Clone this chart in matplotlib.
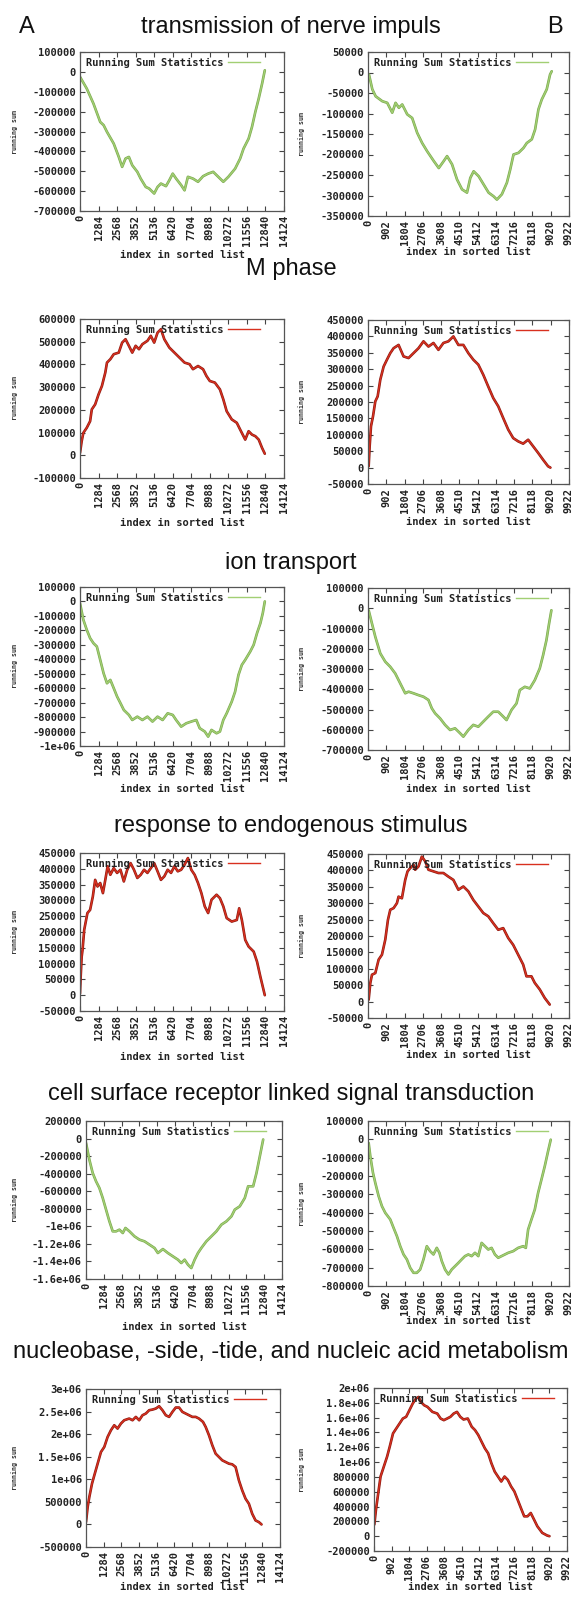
import matplotlib
matplotlib.use('Agg')
import matplotlib.pyplot as plt

# ---------------- data ----------------
titles = ["transmission of nerve impuls", "M phase", "ion transport",
          "response to endogenous stimulus",
          "cell surface receptor linked signal transduction",
          "nucleobase, -side, -tide, and nucleic acid metabolism"]

xticks_a = [0, 1284, 2568, 3852, 5136, 6420, 7704, 8988, 10272, 11556, 12840, 14124]
xticks_b = [0, 902, 1804, 2706, 3608, 4510, 5412, 6314, 7216, 8118, 9020, 9922]

# row 1 : transmission of nerve impuls
nerve_a_x = [0, 467, 934, 1400, 1634, 1868, 2335, 2685, 2918, 3152, 3385, 3618, 3969, 4202, 4552, 4786,
             5136, 5370, 5603, 5953, 6187, 6420, 6654, 7004, 7238, 7471, 7821, 8171, 8521, 8872, 9222,
             9572, 9923, 10273, 10740, 11090, 11324, 11674, 11907, 12141, 12374, 12608, 12795]
nerve_a_y = [-25000, -84000, -160000, -252000, -268000, -302000, -361000, -428000, -478000, -436000,
             -428000, -470000, -503000, -537000, -579000, -587000, -612000, -579000, -562000, -575000,
             -545000, -512000, -537000, -570000, -596000, -528000, -537000, -553000, -525000, -512000,
             -503000, -528000, -553000, -528000, -487000, -436000, -386000, -336000, -277000, -201000,
             -134000, -59000, 8000]
nerve_b_x = [49, 213, 377, 705, 951, 1197, 1361, 1525, 1689, 1935, 2181, 2427, 2673, 2919, 3247, 3493,
             3739, 3903, 4149, 4395, 4641, 4887, 5051, 5215, 5461, 5707, 5953, 6199, 6363, 6609, 6855,
             7019, 7183, 7429, 7675, 7839, 8085, 8249, 8413, 8577, 8823, 8987, 9069]
nerve_b_y = [-5000, -41000, -58000, -70000, -74000, -98000, -74000, -86000, -78000, -102000, -111000,
             -147000, -172000, -192000, -216000, -233000, -216000, -204000, -224000, -261000, -285000,
             -293000, -257000, -241000, -253000, -273000, -293000, -302000, -310000, -297000, -269000,
             -237000, -200000, -196000, -184000, -172000, -163000, -139000, -90000, -66000, -41000,
             -5000, 3000]

# row 2 : M phase
mphase_a_x = [0, 117, 233, 467, 700, 817, 1050, 1284, 1517, 1751, 1868, 2101, 2335, 2685, 2918, 3152,
              3385, 3618, 3852, 4085, 4319, 4669, 4902, 5136, 5370, 5603, 5837, 6187, 6537, 6887, 7238,
              7588, 7821, 8171, 8521, 8755, 8988, 9338, 9688, 9922, 10155, 10506, 10856, 11090, 11440,
              11674, 11907, 12141, 12374, 12608, 12795]
mphase_a_y = [10000, 62000, 99000, 121000, 150000, 202000, 224000, 268000, 305000, 364000, 408000,
              423000, 445000, 452000, 496000, 511000, 482000, 452000, 482000, 467000, 489000, 504000,
              526000, 496000, 540000, 555000, 511000, 474000, 452000, 430000, 408000, 401000, 379000,
              393000, 379000, 349000, 327000, 320000, 290000, 246000, 194000, 158000, 143000, 113000,
              69000, 106000, 91000, 84000, 69000, 32000, 7000]
mphase_b_x = [33, 82, 148, 246, 361, 476, 607, 771, 935, 1099, 1263, 1509, 1755, 2001, 2247, 2493, 2739,
              2985, 3231, 3477, 3723, 3969, 4215, 4461, 4707, 4953, 5199, 5445, 5691, 5937, 6183, 6429,
              6675, 6921, 7167, 7413, 7659, 7905, 8151, 8397, 8643, 8889, 9004]
mphase_b_y = [4000, 65000, 126000, 156000, 202000, 217000, 268000, 308000, 329000, 349000, 364000,
              374000, 339000, 334000, 349000, 364000, 385000, 369000, 380000, 359000, 380000, 385000,
              400000, 374000, 374000, 349000, 329000, 314000, 283000, 247000, 212000, 187000, 151000,
              116000, 90000, 80000, 73000, 85000, 65000, 45000, 24000, 4000, 0]

# row 3 : ion transport
ion_a_x = [0, 233, 467, 700, 934, 1167, 1400, 1634, 1868, 2101, 2335, 2568, 2802, 3035, 3385, 3618,
           3969, 4319, 4669, 5019, 5370, 5720, 6070, 6420, 6654, 7004, 7354, 7704, 8054, 8288, 8638,
           8872, 9105, 9455, 9689, 9922, 10155, 10506, 10739, 10973, 11206, 11440, 11790, 12024, 12257,
           12491, 12655, 12795]
ion_a_y = [-12000, -127000, -196000, -254000, -289000, -312000, -404000, -497000, -566000, -543000,
           -600000, -658000, -704000, -751000, -785000, -820000, -797000, -820000, -797000, -831000,
           -797000, -820000, -774000, -785000, -820000, -866000, -843000, -831000, -820000, -877000,
           -900000, -935000, -889000, -912000, -900000, -820000, -774000, -693000, -624000, -508000,
           -439000, -404000, -346000, -300000, -219000, -150000, -81000, 0]
ion_b_x = [33, 197, 361, 607, 853, 1099, 1345, 1591, 1837, 2001, 2247, 2493, 2739, 2985, 3149, 3313,
           3559, 3805, 4051, 4297, 4543, 4707, 4953, 5199, 5445, 5691, 5937, 6183, 6429, 6675, 6839,
           7085, 7331, 7495, 7741, 7987, 8233, 8479, 8643, 8807, 8938, 9053]
ion_b_y = [-10000, -76000, -141000, -223000, -264000, -289000, -322000, -371000, -420000, -412000,
           -420000, -429000, -437000, -453000, -494000, -519000, -544000, -576000, -601000, -593000,
           -617000, -634000, -601000, -576000, -585000, -560000, -535000, -511000, -511000, -535000,
           -552000, -502000, -470000, -404000, -388000, -396000, -355000, -297000, -232000, -158000,
           -76000, -10000]

# row 4 : response to endogenous stimulus
resp_a_x = [0, 47, 117, 175, 292, 514, 700, 887, 1050, 1214, 1400, 1587, 1751, 1914, 2101, 2335, 2568,
            2802, 3035, 3269, 3502, 3736, 3969, 4202, 4436, 4669, 4902, 5136, 5370, 5603, 5837, 6070,
            6303, 6537, 6770, 7004, 7238, 7471, 7704, 7938, 8171, 8405, 8638, 8872, 9105, 9455, 9689,
            9922, 10155, 10506, 10856, 11020, 11206, 11440, 11674, 12024, 12257, 12491, 12795]
resp_a_y = [5000, 58000, 122000, 143000, 207000, 260000, 270000, 312000, 365000, 344000, 355000, 323000,
            365000, 408000, 381000, 402000, 387000, 397000, 360000, 397000, 418000, 397000, 371000,
            381000, 397000, 387000, 402000, 418000, 392000, 365000, 376000, 397000, 387000, 408000,
            392000, 397000, 413000, 434000, 397000, 381000, 355000, 323000, 281000, 260000, 302000,
            318000, 307000, 281000, 244000, 233000, 238000, 275000, 238000, 175000, 154000, 138000,
            106000, 58000, 0]
resp_b_x = [33, 115, 197, 361, 525, 689, 853, 984, 1099, 1263, 1427, 1509, 1673, 1837, 1952, 2083, 2247,
            2329, 2493, 2657, 2821, 2985, 3231, 3477, 3723, 3969, 4215, 4461, 4707, 4953, 5199, 5445,
            5691, 5937, 6183, 6429, 6675, 6921, 7167, 7413, 7659, 7823, 8069, 8233, 8479, 8725, 8971]
resp_b_y = [6000, 57000, 82000, 87000, 128000, 143000, 189000, 249000, 280000, 285000, 300000, 320000,
            315000, 371000, 397000, 407000, 417000, 402000, 412000, 442000, 428000, 402000, 397000,
            392000, 392000, 381000, 371000, 341000, 351000, 336000, 310000, 290000, 270000, 260000,
            239000, 219000, 224000, 194000, 173000, 143000, 113000, 77000, 77000, 57000, 37000, 11000,
            -9000]

# row 5 : cell surface receptor linked signal transduction
cell_a_x = [0, 241, 482, 723, 964, 1205, 1445, 1686, 1927, 2168, 2409, 2650, 2843, 3132, 3493, 3854,
            4216, 4577, 4938, 5179, 5541, 5902, 6263, 6625, 6866, 7107, 7347, 7588, 7829, 8070, 8311,
            8672, 9034, 9395, 9756, 10118, 10479, 10720, 11081, 11443, 11684, 12045, 12286, 12527, 12768]
cell_a_y = [-49000, -240000, -392000, -487000, -563000, -677000, -810000, -943000, -1057000, -1057000,
            -1038000, -1076000, -1019000, -1057000, -1114000, -1152000, -1171000, -1209000, -1247000,
            -1304000, -1259000, -1304000, -1342000, -1380000, -1418000, -1380000, -1437000, -1475000,
            -1380000, -1304000, -1247000, -1171000, -1114000, -1057000, -981000, -943000, -886000,
            -810000, -772000, -677000, -544000, -544000, -392000, -202000, -11000]
cell_b_x = [33, 115, 246, 361, 525, 689, 853, 1099, 1263, 1427, 1591, 1755, 1919, 2083, 2247, 2411, 2575,
            2739, 2903, 3067, 3231, 3395, 3526, 3641, 3805, 3969, 4133, 4297, 4461, 4625, 4789, 4953,
            5117, 5281, 5445, 5609, 5773, 5937, 6101, 6265, 6429, 6593, 6757, 6921, 7167, 7413, 7659,
            7790, 7905, 8069, 8233, 8397, 8561, 8725, 8889, 9020]
cell_b_y = [-20000, -93000, -183000, -238000, -310000, -365000, -401000, -437000, -483000, -528000,
            -583000, -628000, -655000, -701000, -728000, -728000, -710000, -655000, -583000, -610000,
            -628000, -592000, -619000, -664000, -710000, -737000, -710000, -692000, -674000, -655000,
            -637000, -628000, -637000, -619000, -637000, -565000, -583000, -601000, -592000, -628000,
            -646000, -637000, -628000, -619000, -610000, -592000, -583000, -592000, -492000, -437000,
            -383000, -292000, -220000, -147000, -65000, -2000]

# row 6 : nucleobase, -side, -tide, and nucleic acid metabolism
nuc_a_x = [0, 121, 242, 436, 605, 847, 1089, 1331, 1573, 1815, 2057, 2299, 2541, 2783, 3146, 3388, 3630,
           3872, 4114, 4356, 4598, 4840, 5082, 5324, 5566, 5808, 6050, 6292, 6534, 6776, 7018, 7260,
           7502, 7744, 7986, 8228, 8518, 8712, 8954, 9196, 9438, 9680, 9922, 10164, 10406, 10648, 10890,
           11132, 11374, 11616, 11858, 12100, 12342, 12584, 12778]
nuc_a_y = [52000, 385000, 607000, 902000, 1087000, 1346000, 1605000, 1716000, 1938000, 2086000, 2197000,
           2123000, 2234000, 2308000, 2345000, 2308000, 2382000, 2308000, 2419000, 2456000, 2530000,
           2544000, 2567000, 2618000, 2530000, 2419000, 2382000, 2493000, 2589000, 2589000, 2493000,
           2456000, 2419000, 2382000, 2382000, 2345000, 2271000, 2160000, 1975000, 1753000, 1568000,
           1494000, 1420000, 1383000, 1346000, 1331000, 1272000, 976000, 754000, 570000, 459000,
           237000, 89000, 52000, 0]
nuc_b_x = [17, 101, 219, 337, 506, 674, 809, 978, 1146, 1315, 1484, 1652, 1821, 1990, 2158, 2293, 2411,
           2580, 2748, 3001, 3254, 3423, 3591, 3760, 3929, 4097, 4266, 4435, 4603, 4822, 5024, 5193,
           5362, 5530, 5699, 5868, 6036, 6205, 6373, 6542, 6711, 6879, 7048, 7216, 7385, 7553, 7722,
           7891, 8059, 8228, 8396, 8649, 8902, 9020]
nuc_b_y = [157000, 358000, 582000, 805000, 940000, 1074000, 1208000, 1387000, 1454000, 1521000, 1588000,
           1611000, 1700000, 1790000, 1857000, 1879000, 1812000, 1767000, 1745000, 1678000, 1655000,
           1588000, 1566000, 1588000, 1611000, 1655000, 1678000, 1611000, 1575000, 1588000, 1477000,
           1432000, 1365000, 1275000, 1186000, 1119000, 984000, 872000, 805000, 738000, 805000, 760000,
           671000, 604000, 492000, 380000, 268000, 268000, 313000, 224000, 134000, 45000, 9000, 0]

# y tick values / labels per panel
yt_nerve_a = [100000, 0, -100000, -200000, -300000, -400000, -500000, -600000, -700000]
yl_nerve_a = ["100000", "0", "-100000", "-200000", "-300000", "-400000", "-500000", "-600000", "-700000"]
yt_nerve_b = [50000, 0, -50000, -100000, -150000, -200000, -250000, -300000, -350000]
yl_nerve_b = ["50000", "0", "-50000", "-100000", "-150000", "-200000", "-250000", "-300000", "-350000"]
yt_mphase_a = [600000, 500000, 400000, 300000, 200000, 100000, 0, -100000]
yl_mphase_a = ["600000", "500000", "400000", "300000", "200000", "100000", "0", "-100000"]
yt_50k = [450000, 400000, 350000, 300000, 250000, 200000, 150000, 100000, 50000, 0, -50000]
yl_50k = ["450000", "400000", "350000", "300000", "250000", "200000", "150000", "100000", "50000", "0", "-50000"]
yt_ion_a = [100000, 0, -100000, -200000, -300000, -400000, -500000, -600000, -700000, -800000, -900000, -1000000]
yl_ion_a = ["100000", "0", "-100000", "-200000", "-300000", "-400000", "-500000", "-600000", "-700000",
            "-800000", "-900000", "-1e+06"]
yt_ion_b = yt_nerve_a
yl_ion_b = yl_nerve_a
yt_cell_a = [200000, 0, -200000, -400000, -600000, -800000, -1000000, -1200000, -1400000, -1600000]
yl_cell_a = ["200000", "0", "-200000", "-400000", "-600000", "-800000", "-1e+06", "-1.2e+06", "-1.4e+06", "-1.6e+06"]
yt_cell_b = [100000, 0, -100000, -200000, -300000, -400000, -500000, -600000, -700000, -800000]
yl_cell_b = ["100000", "0", "-100000", "-200000", "-300000", "-400000", "-500000", "-600000", "-700000", "-800000"]
yt_nuc_a = [3000000, 2500000, 2000000, 1500000, 1000000, 500000, 0, -500000]
yl_nuc_a = ["3e+06", "2.5e+06", "2e+06", "1.5e+06", "1e+06", "500000", "0", "-500000"]
yt_nuc_b = [2000000, 1800000, 1600000, 1400000, 1200000, 1000000, 800000, 600000, 400000, 200000, 0, -200000]
yl_nuc_b = ["2e+06", "1.8e+06", "1.6e+06", "1.4e+06", "1.2e+06", "1e+06", "800000", "600000", "400000",
            "200000", "0", "-200000"]

# ---------------- style ----------------
W, H = 574, 1598
fig = plt.figure(figsize=(W / 100, H / 100), dpi=100)
fig.patch.set_facecolor('white')

GREEN = ('#a2cf73', '#7aa84e')
RED = ('#d8301f', '#8a1a12')
MONO = 'DejaVu Sans Mono'

def px_axes(l, t, r, b):
    return fig.add_axes([l / W, 1 - b / H, (r - l) / W, (b - t) / H])

def panel(box, xs, ys, cols, xticks, yticks, ylabels, xlabel_y, ylabel_x):
    l, t, r, b = box
    ax = px_axes(l, t, r, b)
    ax.plot(xs, ys, color=cols[1], lw=1.9, solid_capstyle='round')
    ax.plot(xs, ys, color=cols[0], lw=1.0, label='Running Sum Statistics')
    ax.set_xlim(xticks[0], xticks[-1])
    ax.set_ylim(yticks[-1], yticks[0])
    ax.set_xticks(xticks)
    ax.set_xticklabels([str(v) for v in xticks], rotation=90, fontfamily=MONO,
                       fontweight='bold', fontsize=7.5, color='#222222')
    ax.set_yticks(yticks)
    ax.set_yticklabels(ylabels, fontfamily=MONO, fontweight='bold', fontsize=7.5, color='#222222')
    ax.tick_params(direction='in', top=True, right=True, length=3.5, width=0.8,
                   color='#444444', pad=3)
    for s in ax.spines.values():
        s.set_color('#555555')
        s.set_linewidth(0.9)
    leg = ax.legend(loc='upper left', frameon=False, markerfirst=False,
                    prop={'family': MONO, 'weight': 'bold', 'size': 7.5},
                    handlelength=3.0, handletextpad=0.5, borderaxespad=0.25,
                    borderpad=0.3)
    for txt in leg.get_texts():
        txt.set_color('#222222')
    fig.text((l + r) / 2 / W, 1 - xlabel_y / H, 'index in sorted list', ha='center', va='center',
             fontfamily=MONO, fontweight='bold', fontsize=7.5, color='#222222')
    fig.text(ylabel_x / W, 1 - (t + b) / 2 / H, 'running sum', rotation=90, ha='center', va='center',
             fontfamily=MONO, fontweight='bold', fontsize=4.8, color='#333333')
    return ax

panels = [
    ((80, 52, 284, 211), nerve_a_x, nerve_a_y, GREEN, xticks_a, yt_nerve_a, yl_nerve_a, 255, 15),
    ((368, 52, 569, 216), nerve_b_x, nerve_b_y, GREEN, xticks_b, yt_nerve_b, yl_nerve_b, 252, 302),
    ((80, 319, 284, 478), mphase_a_x, mphase_a_y, RED, xticks_a, yt_mphase_a, yl_mphase_a, 523, 15),
    ((368, 320, 569, 484), mphase_b_x, mphase_b_y, RED, xticks_b, yt_50k, yl_50k, 522, 302),
    ((80, 587, 284, 746), ion_a_x, ion_a_y, GREEN, xticks_a, yt_ion_a, yl_ion_a, 789, 15),
    ((368, 588, 569, 750), ion_b_x, ion_b_y, GREEN, xticks_b, yt_ion_b, yl_ion_b, 789, 302),
    ((80, 853, 284, 1011), resp_a_x, resp_a_y, RED, xticks_a, yt_50k, yl_50k, 1057, 15),
    ((368, 854, 569, 1018), resp_b_x, resp_b_y, RED, xticks_b, yt_50k, yl_50k, 1055, 302),
    ((86, 1121, 282, 1279), cell_a_x, cell_a_y, GREEN, xticks_a, yt_cell_a, yl_cell_a, 1327, 15),
    ((368, 1121, 569, 1286), cell_b_x, cell_b_y, GREEN, xticks_b, yt_cell_b, yl_cell_b, 1321, 302),
    ((86, 1389, 280, 1547), nuc_a_x, nuc_a_y, RED, xticks_a, yt_nuc_a, yl_nuc_a, 1587, 15),
    ((374, 1388, 567, 1551), nuc_b_x, nuc_b_y, RED, xticks_b, yt_nuc_b, yl_nuc_b, 1587, 302),
]
for p in panels:
    panel(*p)

title_baselines = [33, 275, 569, 832, 1100, 1358]
for ttl, yb in zip(titles, title_baselines):
    fig.text(291 / W, 1 - yb / H, ttl, ha='center', va='baseline',
             fontfamily='Liberation Sans', fontsize=17, color='#111111')
fig.text(27 / W, 1 - 33 / H, 'A', ha='center', va='baseline',
         fontfamily='Liberation Sans', fontsize=17, color='#111111')
fig.text(555 / W, 1 - 33 / H, 'B', ha='center', va='baseline',
         fontfamily='Liberation Sans', fontsize=17, color='#111111')

fig.savefig('out.png', dpi=100, facecolor='white')
